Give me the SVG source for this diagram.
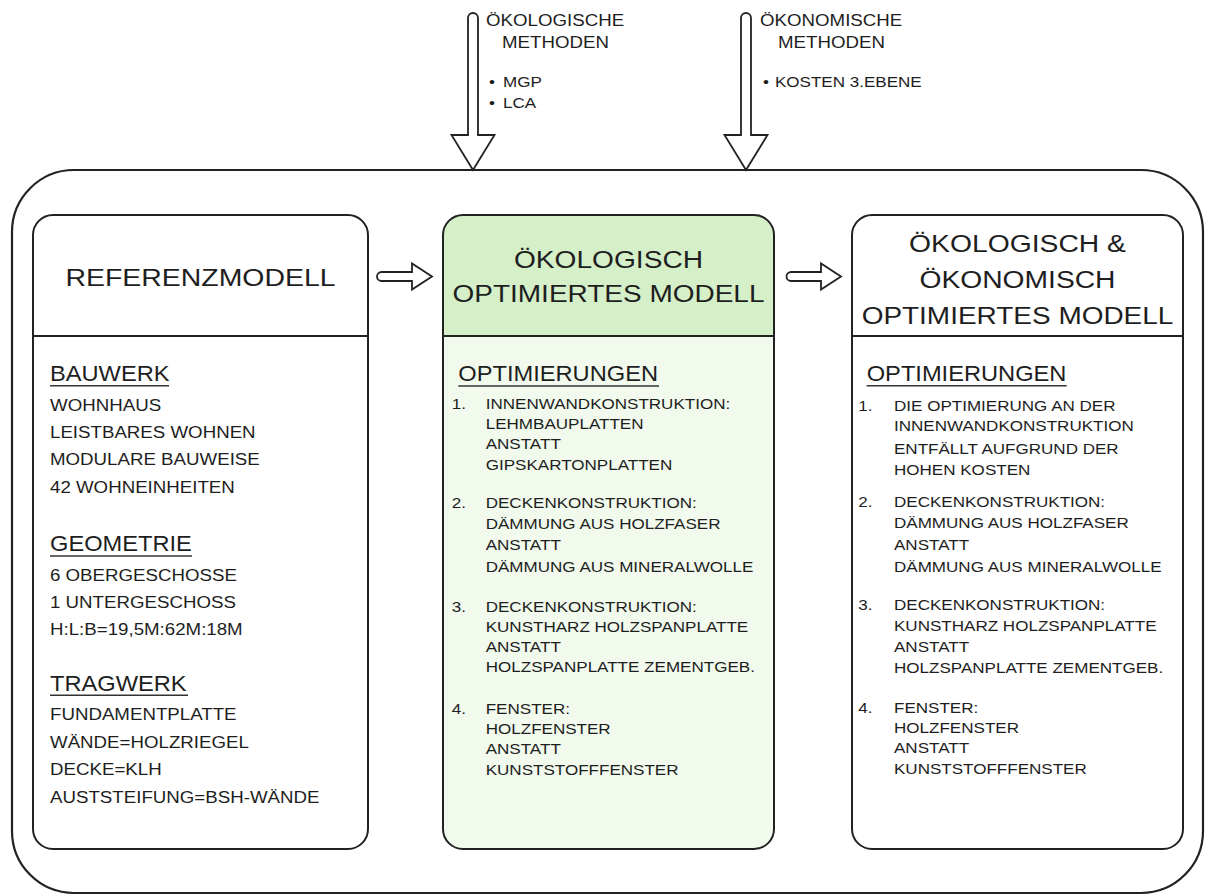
<svg xmlns="http://www.w3.org/2000/svg" width="1205" height="896" viewBox="0 0 1205 896">
<style>
text{font-family:"Liberation Sans",Arial,sans-serif;fill:#1e1e1e}
.hd{font-size:24.5px;text-anchor:middle}
.sec{font-size:21.5px}
.b17{font-size:17px}
.b15{font-size:15.5px}
.top{font-size:17px}
.bul{font-size:15.5px}
.frame{fill:none;stroke:#222;stroke-width:2.2}
.box{fill:none;stroke:#222;stroke-width:2}
.div{stroke:#222;stroke-width:2}
.ul{stroke:#333;stroke-width:1.6}
.arr{fill:#fff;stroke:#222;stroke-width:1.8;stroke-linejoin:miter}
</style>
<rect width="1205" height="896" fill="#fff"/>
<g id="outer-frame">
<rect class="frame" x="12" y="170" width="1191" height="723" rx="62" ry="62"/>
</g>

<g id="node-referenzmodell">
<rect x="33" y="215" width="335" height="634" rx="20" ry="20" fill="#fff" class="box"/>
<line class="div" x1="33" y1="336" x2="368" y2="336"/>
<text class="hd" x="200.5" y="286" textLength="270" lengthAdjust="spacingAndGlyphs">REFERENZMODELL</text>
<g transform="translate(50 0) scale(1.1 1)">
<text class="sec" x="0" y="380.7">BAUWERK</text>
<text class="b17" x="0" y="410.7">WOHNHAUS</text>
<text class="b17" x="0" y="437.7">LEISTBARES WOHNEN</text>
<text class="b17" x="0" y="465.3">MODULARE BAUWEISE</text>
<text class="b17" x="0" y="492.7">42 WOHNEINHEITEN</text>
<text class="sec" x="0" y="550.7">GEOMETRIE</text>
<text class="b17" x="0" y="581">6 OBERGESCHOSSE</text>
<text class="b17" x="0" y="608.3">1 UNTERGESCHOSS</text>
<text class="b17" x="0" y="635">H:L:B=19,5M:62M:18M</text>
<text class="sec" x="0" y="690.7">TRAGWERK</text>
<text class="b17" x="0" y="720">FUNDAMENTPLATTE</text>
<text class="b17" x="0" y="748.3">WÄNDE=HOLZRIEGEL</text>
<text class="b17" x="0" y="775">DECKE=KLH</text>
<text class="b17" x="0" y="802.7">AUSTSTEIFUNG=BSH-WÄNDE</text>
</g>
<line class="ul" x1="50" y1="385.7" x2="169" y2="385.7"/>
<line class="ul" x1="50" y1="556" x2="192" y2="556"/>
<line class="ul" x1="50" y1="695.3" x2="188" y2="695.3"/>
</g>

<g id="node-oekologisch-optimiert">
<rect x="443" y="215" width="331" height="634" rx="20" ry="20" fill="#f1faed"/>
<path d="M443 336 L443 235 A20 20 0 0 1 463 215 L754 215 A20 20 0 0 1 774 235 L774 336 Z" fill="#d5efc8"/>
<rect x="443" y="215" width="331" height="634" rx="20" ry="20" class="box"/>
<line class="div" x1="443" y1="336" x2="774" y2="336"/>
<text class="hd" x="608.5" y="268" textLength="189" lengthAdjust="spacingAndGlyphs">ÖKOLOGISCH</text>
<text class="hd" x="608.5" y="302" textLength="312" lengthAdjust="spacingAndGlyphs">OPTIMIERTES MODELL</text>
<g transform="translate(485.7 0) scale(1.1 1)">
<text class="sec" x="-24.9" y="380.7">OPTIMIERUNGEN</text>
<text class="b15" x="-30.9" y="409">1.</text>
<text class="b15" x="0" y="409">INNENWANDKONSTRUKTION:</text>
<text class="b15" x="0" y="429">LEHMBAUPLATTEN</text>
<text class="b15" x="0" y="449.3">ANSTATT</text>
<text class="b15" x="0" y="470">GIPSKARTONPLATTEN</text>
<text class="b15" x="-30.9" y="508.3">2.</text>
<text class="b15" x="0" y="508.3">DECKENKONSTRUKTION:</text>
<text class="b15" x="0" y="529">DÄMMUNG AUS HOLZFASER</text>
<text class="b15" x="0" y="550">ANSTATT</text>
<text class="b15" x="0" y="572.3">DÄMMUNG AUS MINERALWOLLE</text>
<text class="b15" x="-30.9" y="611.7">3.</text>
<text class="b15" x="0" y="611.7">DECKENKONSTRUKTION:</text>
<text class="b15" x="0" y="631.7">KUNSTHARZ HOLZSPANPLATTE</text>
<text class="b15" x="0" y="651.7">ANSTATT</text>
<text class="b15" x="0" y="672.3">HOLZSPANPLATTE ZEMENTGEB.</text>
<text class="b15" x="-30.9" y="714">4.</text>
<text class="b15" x="0" y="714">FENSTER:</text>
<text class="b15" x="0" y="734">HOLZFENSTER</text>
<text class="b15" x="0" y="754">ANSTATT</text>
<text class="b15" x="0" y="775">KUNSTSTOFFFENSTER</text>
</g>
<line class="ul" x1="458.3" y1="386" x2="659" y2="386"/>
</g>

<g id="node-oekologisch-oekonomisch-optimiert">
<rect x="852" y="215" width="331" height="634" rx="20" ry="20" fill="#fff" class="box"/>
<line class="div" x1="852" y1="336" x2="1183" y2="336"/>
<text class="hd" x="1017.5" y="251.7" textLength="217" lengthAdjust="spacingAndGlyphs">ÖKOLOGISCH &amp;</text>
<text class="hd" x="1017.5" y="288.3" textLength="196" lengthAdjust="spacingAndGlyphs">ÖKONOMISCH</text>
<text class="hd" x="1017.5" y="324" textLength="311.7" lengthAdjust="spacingAndGlyphs">OPTIMIERTES MODELL</text>
<g transform="translate(894 0) scale(1.1 1)">
<text class="sec" x="-24.8" y="380.7">OPTIMIERUNGEN</text>
<text class="b15" x="-32.5" y="410.7">1.</text>
<text class="b15" x="0" y="410.7">DIE OPTIMIERUNG AN DER</text>
<text class="b15" x="0" y="431">INNENWANDKONSTRUKTION</text>
<text class="b15" x="0" y="454.3">ENTFÄLLT AUFGRUND DER</text>
<text class="b15" x="0" y="475">HOHEN KOSTEN</text>
<text class="b15" x="-32.5" y="506.7">2.</text>
<text class="b15" x="0" y="506.7">DECKENKONSTRUKTION:</text>
<text class="b15" x="0" y="528.3">DÄMMUNG AUS HOLZFASER</text>
<text class="b15" x="0" y="550">ANSTATT</text>
<text class="b15" x="0" y="572.3">DÄMMUNG AUS MINERALWOLLE</text>
<text class="b15" x="-32.5" y="610">3.</text>
<text class="b15" x="0" y="610">DECKENKONSTRUKTION:</text>
<text class="b15" x="0" y="631">KUNSTHARZ HOLZSPANPLATTE</text>
<text class="b15" x="0" y="651.7">ANSTATT</text>
<text class="b15" x="0" y="672.7">HOLZSPANPLATTE ZEMENTGEB.</text>
<text class="b15" x="-32.5" y="712.7">4.</text>
<text class="b15" x="0" y="712.7">FENSTER:</text>
<text class="b15" x="0" y="733.3">HOLZFENSTER</text>
<text class="b15" x="0" y="753.3">ANSTATT</text>
<text class="b15" x="0" y="774.3">KUNSTSTOFFFENSTER</text>
</g>
<line class="ul" x1="866.7" y1="385.7" x2="1066.7" y2="385.7"/>
</g>

<g id="input-oekologische-methoden">
<g transform="translate(486 0) scale(1.1 1)">
<text class="top" x="0" y="26">ÖKOLOGISCHE</text>
<text class="top" x="14.5" y="48">METHODEN</text>
<text class="bul" x="2.7" y="87.3">•<tspan x="15.5">MGP</tspan></text>
<text class="bul" x="2.7" y="108.3">•<tspan x="15.5">LCA</tspan></text>
</g>
</g>

<g id="input-oekonomische-methoden">
<g transform="translate(760 0) scale(1.1 1)">
<text class="top" x="0" y="26">ÖKONOMISCHE</text>
<text class="top" x="16.4" y="48">METHODEN</text>
<text class="bul" x="2.7" y="87.3">•<tspan x="13.6">KOSTEN 3.EBENE</tspan></text>
</g>
</g>

<g id="connectors">
<path class="arr" d="M468 135 L468 18 A5 5 0 0 1 478 18 L478 135 L494.5 135 L473 170 L451.5 135 Z"/>
<path class="arr" d="M741 135 L741 18 A5 5 0 0 1 751 18 L751 135 L767.5 135 L746 170 L724.5 135 Z"/>
<path class="arr" d="M381.5 272 L412 272 L412 263.5 L432 276.5 L412 289.5 L412 281 L381.5 281 A4.5 4.5 0 0 1 381.5 272 Z"/>
<path class="arr" d="M791 272 L821 272 L821 263.5 L841 276.5 L821 289.5 L821 281 L791 281 A4.5 4.5 0 0 1 791 272 Z"/>
</g>
</svg>
